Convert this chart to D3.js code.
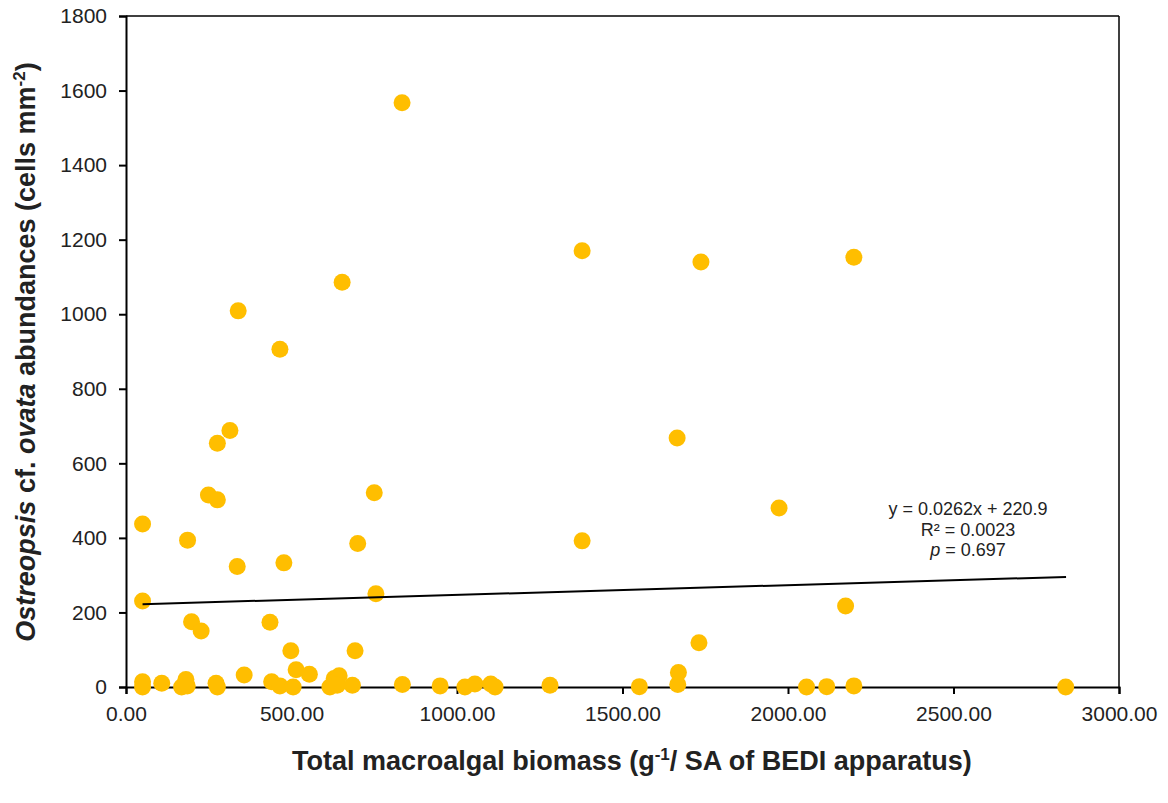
<!DOCTYPE html>
<html>
<head>
<meta charset="utf-8">
<script src="https://cdn.jsdelivr.net/npm/d3@7"></script>
<style>
  html, body { margin: 0; padding: 0; background: #fff; }
  svg { display: block; font-family: Arial, "Liberation Sans", sans-serif; }
</style>
</head>
<body>
<svg id="chart" width="1168" height="803"></svg>
<script>
// ---- data ----
const biomass = [50,50,50,50,108,168,181,185,198,227,272,276,336,357,435,440,465,477,498,505,514,554,616,629,644,638,684,692,755,835,949,1024,1054,1102,1115,1281,1551,1667,1669,1731,2056,2117,2174,2199,2839,186,249,276,276,314,700,750,339,465,653,834,1378,1737,2199,1665,1973,1378];
const abundance = [437,231,14,0,10,0,20,3,175,150,10,0,323,32,174,14,3,333,97,0,46,34,0,23,30,5,5,97,250,7,3,0,8,8,0,5,1,7,39,119,0,1,217,3,0,394,515,502,654,688,385,521,1009,906,1086,1567,1170,1140,1153,668,480,392];
const xTicks = [0,500,1000,1500,2000,2500,3000];
const yTicks = [0,200,400,600,800,1000,1200,1400,1600,1800];
const slope = 0.0262, intercept = 220.9;
const fitRange = [50, 2840];
const eqLines = ["y = 0.0262x + 220.9", "R² = 0.0023", "0.697"];

// ---- layout ----
const W = 1168, H = 803;
const m = {left: 126, top: 16, right: 49, bottom: 116};
const iw = W - m.left - m.right, ih = H - m.top - m.bottom;
const svg = d3.select("#chart");
const g = svg.append("g").attr("transform", `translate(${m.left},${m.top})`);

const x = d3.scaleLinear().domain([0, 3000]).range([0, iw]);
const y = d3.scaleLinear().domain([0, 1800]).range([ih, 0]);

// frame (top and right)
g.append("line").attr("x1", 0).attr("x2", iw).attr("y1", 0).attr("y2", 0)
  .attr("stroke", "#000").attr("stroke-width", 1.5);
g.append("line").attr("x1", iw).attr("x2", iw).attr("y1", 0).attr("y2", ih)
  .attr("stroke", "#000").attr("stroke-width", 1.5);

// axes
const xAxis = g.append("g").attr("transform", `translate(0,${ih})`)
  .call(d3.axisBottom(x).tickValues(xTicks).tickFormat(d3.format(".2f")).tickSizeOuter(0).tickSize(7).tickPadding(12));
const yAxis = g.append("g")
  .call(d3.axisLeft(y).tickValues(yTicks).tickFormat(d3.format("d")).tickSizeOuter(0).tickSize(7).tickPadding(12));
[xAxis, yAxis].forEach(a => {
  a.select(".domain").attr("stroke", "#000").attr("stroke-width", 2);
  a.selectAll(".tick line").attr("stroke", "#000").attr("stroke-width", 2);
  a.selectAll(".tick text").attr("fill", "#222").style("font-size", "21px")
    .style("font-family", "Arial, 'Liberation Sans', sans-serif");
});

// points
g.append("g").selectAll("circle").data(biomass.map((b, i) => [b, abundance[i]]))
  .join("circle")
  .attr("cx", d => x(d[0])).attr("cy", d => y(d[1])).attr("r", 8.5)
  .attr("fill", "#FFBE00");

// trend line
g.append("line")
  .attr("x1", x(fitRange[0])).attr("y1", y(slope * fitRange[0] + intercept))
  .attr("x2", x(fitRange[1])).attr("y2", y(slope * fitRange[1] + intercept))
  .attr("stroke", "#000").attr("stroke-width", 2);

// equation text
const eq = svg.append("text").attr("text-anchor", "middle")
  .style("font-size", "18px").attr("fill", "#222");
eq.append("tspan").attr("x", 968).attr("y", 515).text(eqLines[0]);
eq.append("tspan").attr("x", 968).attr("y", 536).text(eqLines[1]);
const l3 = eq.append("tspan").attr("x", 968).attr("y", 556);
l3.append("tspan").style("font-style", "italic").text("p");
l3.append("tspan").text(" = " + eqLines[2]);

// x axis title
const xt = svg.append("text").attr("x", 632).attr("y", 770).attr("text-anchor", "middle")
  .style("font-size", "27px").style("font-weight", "bold").attr("fill", "#222");
xt.append("tspan").text("Total macroalgal biomass (g");
xt.append("tspan").attr("dy", -10).style("font-size", "17px").text("-1");
xt.append("tspan").attr("dy", 10).text("/ SA of BEDI apparatus)");

// y axis title
const yt = svg.append("text").attr("transform", "translate(35,352) rotate(-90)")
  .attr("text-anchor", "middle").style("font-size", "27px").style("font-weight", "bold").attr("fill", "#222");
yt.append("tspan").style("font-style", "italic").text("Ostreopsis");
yt.append("tspan").text(" cf. ");
yt.append("tspan").style("font-style", "italic").text("ovata");
yt.append("tspan").text(" abundances (cells mm");
yt.append("tspan").attr("dy", -10).style("font-size", "17px").text("-2");
yt.append("tspan").attr("dy", 10).text(")");
</script>
</body>
</html>
